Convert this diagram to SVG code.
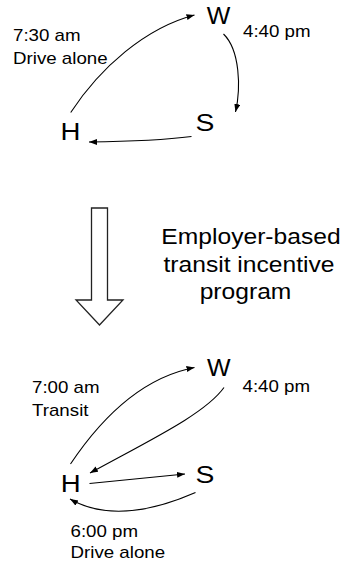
<svg xmlns="http://www.w3.org/2000/svg" width="345" height="565" viewBox="0 0 345 565">
  <style>
    text { font-family: "Liberation Sans", Arial, sans-serif; fill: #000; }
    .lbl { font-size: 16px; }
    .node { font-size: 24px; text-anchor: middle; }
    .note { font-size: 22px; text-anchor: middle; }
    .trip { fill: none; stroke: #000; stroke-width: 1.1; marker-end: url(#head); }
    .block { fill: #fff; stroke: #222; stroke-width: 1.3; stroke-linejoin: miter; }
  </style>
  <defs>
    <marker id="head" markerUnits="userSpaceOnUse" markerWidth="10" markerHeight="8" refX="8" refY="3" orient="auto">
      <path d="M0,0 L8,3 L0,6 Z" fill="#000"/>
    </marker>
  </defs>
  <rect width="345" height="565" fill="#fff"/>

  <!-- Before: drive-alone tour H -> W -> S -> H -->
  <g id="before-H"><text class="node" transform="translate(70.5,140) scale(1.15,1)">H</text></g>
  <g id="before-W"><text class="node" transform="translate(218.5,24) scale(1.04,1)">W</text></g>
  <g id="before-S"><text class="node" transform="translate(205,130.5) scale(1.18,1)">S</text></g>
  <g id="before-labels">
    <text class="lbl" transform="translate(13,40.7) scale(1.17,1)">7:30 am</text>
    <text class="lbl" transform="translate(13,64) scale(1.17,1)">Drive alone</text>
    <text class="lbl" transform="translate(243,37.3) scale(1.17,1)">4:40 pm</text>
  </g>
  <g id="before-connectors">
    <path class="trip" d="M70.7,112.5 C100,68 145,28 194.5,15"/>
    <path class="trip" d="M223.5,34 C240,50 241,88 235.5,112"/>
    <path class="trip" d="M191.5,136.5 C165,140 130,141.5 89,142"/>
  </g>

  <!-- Program change -->
  <g id="program-arrow">
    <polygon class="block" points="91.5,208 107.5,208 107.5,300 123,300 99.5,325 76,300 91.5,300"/>
  </g>
  <g id="program-label">
    <text class="note" transform="translate(251,244) scale(1.12,1)">Employer-based</text>
    <text class="note" transform="translate(249,271.5) scale(1.12,1)">transit incentive</text>
    <text class="note" transform="translate(245.5,299) scale(1.12,1)">program</text>
  </g>

  <!-- After: transit to work, drive alone to shopping -->
  <g id="after-H"><text class="node" transform="translate(70.8,491.5) scale(1.15,1)">H</text></g>
  <g id="after-W"><text class="node" transform="translate(218.8,376) scale(1.04,1)">W</text></g>
  <g id="after-S"><text class="node" transform="translate(205,482.5) scale(1.18,1)">S</text></g>
  <g id="after-labels">
    <text class="lbl" transform="translate(32,393.3) scale(1.17,1)">7:00 am</text>
    <text class="lbl" transform="translate(32,416) scale(1.17,1)">Transit</text>
    <text class="lbl" transform="translate(242.5,392) scale(1.17,1)">4:40 pm</text>
    <text class="lbl" transform="translate(70.5,536.7) scale(1.17,1)">6:00 pm</text>
    <text class="lbl" transform="translate(70.5,558.3) scale(1.17,1)">Drive alone</text>
  </g>
  <g id="after-connectors">
    <path class="trip" d="M70.5,464 C100,420 140,378 194.5,367.5"/>
    <path class="trip" d="M224,387.5 C205,414 150,440 90,473"/>
    <path class="trip" d="M89.5,483.5 L185,474"/>
    <path class="trip" d="M195.5,492.5 C160,508 110,522 70,499"/>
  </g>
</svg>
